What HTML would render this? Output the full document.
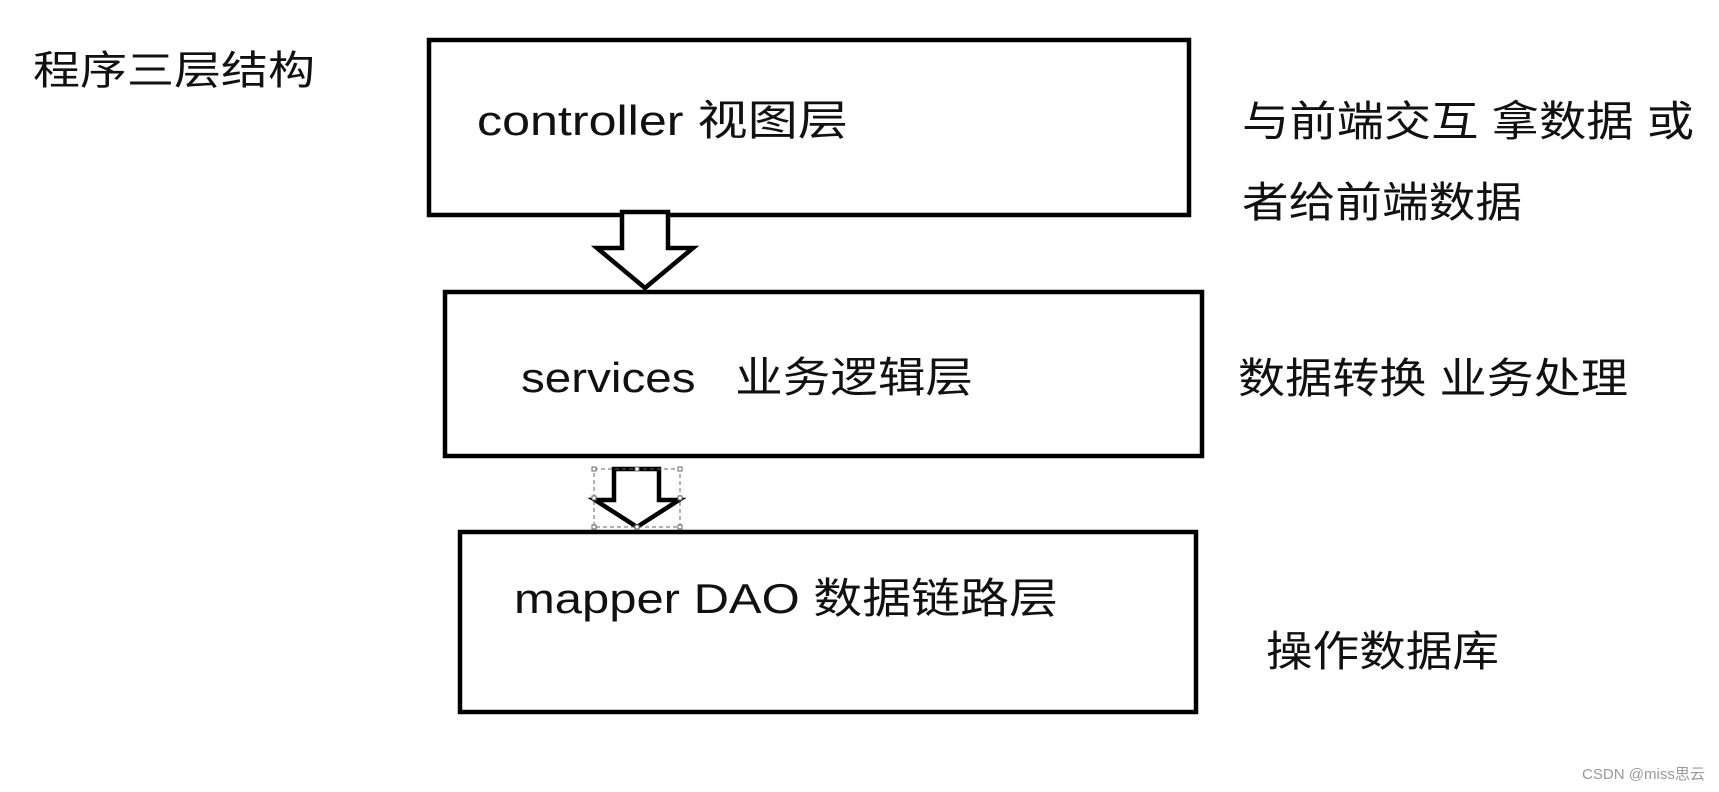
<!DOCTYPE html>
<html><head><meta charset="utf-8"><style>
html,body{margin:0;padding:0;background:#fff;}
svg{display:block;}
text{font-family:"Liberation Sans","Noto Sans CJK SC",sans-serif;fill:#111;}
</style></head><body>
<svg width="1719" height="792" viewBox="0 0 1719 792" xmlns="http://www.w3.org/2000/svg">
<rect width="1719" height="792" fill="#fff"/>
<g fill="none" stroke="#000" stroke-width="4.5">
<rect x="429" y="40" width="760" height="175"/>
<rect x="445" y="292" width="757" height="164"/>
<rect x="460" y="532" width="736" height="180"/>
</g>
<polygon points="622,212 668,212 668,248 693,248 645,288 597,248 622,248" fill="#fff" stroke="#000" stroke-width="4.5" stroke-linejoin="miter"/>
<polygon points="614,469 659,469 659,500 679,500 637,527 595,500 614,500" fill="#fff" stroke="#000" stroke-width="4.5"/>
<rect x="594" y="469" width="86" height="58" fill="none" stroke="#666" stroke-width="1" stroke-dasharray="4,3"/>
<g fill="#fff" stroke="#666" stroke-width="1">
<rect x="592" y="467" width="4" height="4"/><rect x="635" y="467" width="4" height="4"/><rect x="678" y="467" width="4" height="4"/>
<rect x="592" y="496" width="4" height="4"/><rect x="678" y="496" width="4" height="4"/>
<rect x="592" y="525" width="4" height="4"/><rect x="635" y="525" width="4" height="4"/><rect x="678" y="525" width="4" height="4"/>
</g>
<text x="33" y="84" font-size="40" textLength="282" lengthAdjust="spacingAndGlyphs">程序三层结构</text>
<text x="477" y="135" font-size="42" textLength="371" lengthAdjust="spacingAndGlyphs">controller 视图层</text>
<text x="521" y="392" font-size="42" textLength="452" lengthAdjust="spacingAndGlyphs" xml:space="preserve">services   业务逻辑层</text>
<text x="514" y="613" font-size="42" textLength="544" lengthAdjust="spacingAndGlyphs">mapper DAO 数据链路层</text>
<text x="1242" y="136" font-size="42" textLength="452" lengthAdjust="spacingAndGlyphs">与前端交互 拿数据 或</text>
<text x="1242" y="217" font-size="42" textLength="280" lengthAdjust="spacingAndGlyphs">者给前端数据</text>
<text x="1238" y="393" font-size="42" textLength="390" lengthAdjust="spacingAndGlyphs">数据转换 业务处理</text>
<text x="1266" y="666" font-size="42" textLength="233" lengthAdjust="spacingAndGlyphs">操作数据库</text>
<text x="1582" y="779" font-size="15" fill="#999" style="fill:#999" textLength="123" lengthAdjust="spacingAndGlyphs">CSDN @miss思云</text>
</svg>
</body></html>
